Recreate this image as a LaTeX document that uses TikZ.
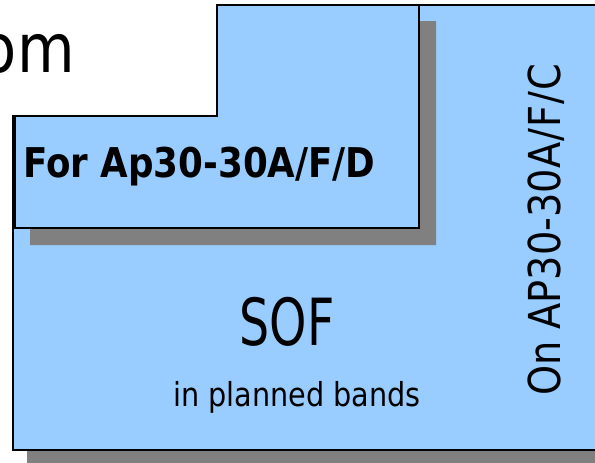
\documentclass[tikz,border=0pt]{standalone}
\usepackage{fontspec}
\setmainfont[FakeStretch=0.87]{DejaVu Sans}
\definecolor{boxblue}{HTML}{99CCFF}
\definecolor{shadowgray}{HTML}{808080}
\begin{document}
\begin{tikzpicture}[x=1pt,y=-1pt,
  panel/.style={fill=boxblue,draw=black,line width=1.5pt,line join=miter},
  shade/.style={fill=shadowgray,draw=none},
  lbl/.style={inner sep=0pt,text=black}]
\useasboundingbox (0,0) rectangle (595,463);
\clip (0,0) rectangle (595,463);
% big shape and shadow
\fill[shade] (27,130) -- (231,130) -- (231,19) -- (620,19) -- (620,466) -- (27,466) -- cycle;
\draw[panel] (13,450) -- (13,116) -- (217,116) -- (217,5) -- (610,5) -- (610,450) -- cycle;
% L shape and shadow
\fill[shade] (30,132) -- (232,132) -- (232,21) -- (436,21) -- (436,245) -- (30,245) -- cycle;
\draw[panel] (15,116) -- (217,116) -- (217,5) -- (419,5) -- (419,228) -- (15,228) -- cycle;
% texts
\node[lbl,anchor=base east,font=\fontsize{68}{70}\selectfont] (om) at (75,72) {om};
\node[lbl,anchor=base west,font=\fontsize{41}{43}\selectfont\bfseries] (for) at (23,177) {For Ap30-30A/F/D};
\node[lbl,anchor=base,font=\fontsize{65}{67}\selectfont] (sof) at (287,345) {\scalebox{0.84}[1]{SOF}};
\node[lbl,anchor=base,font=\fontsize{33}{35}\selectfont] (bands) at (297,406) {in planned bands};
\node[lbl,anchor=base,rotate=90,font=\fontsize{44}{46}\selectfont] (on) at (560,230) {On AP30-30A\kern1pt/\kern1pt F\kern1pt/\kern1pt C};
\end{tikzpicture}
\end{document}
